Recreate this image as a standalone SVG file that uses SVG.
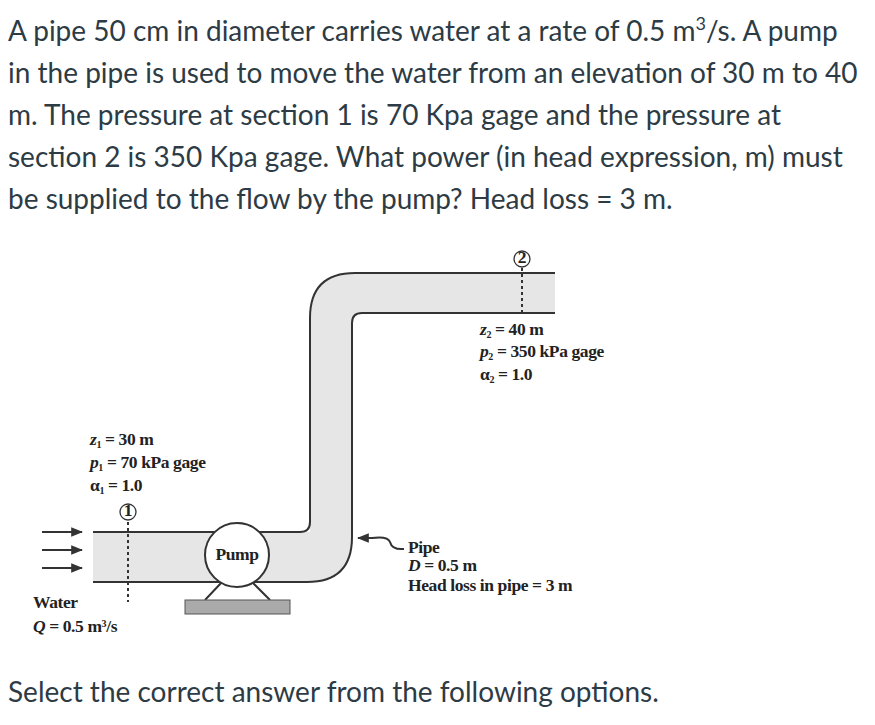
<svg xmlns="http://www.w3.org/2000/svg" width="875" height="725" viewBox="0 0 875 725">
<style>
.q{font-family:Lato,"Liberation Sans",sans-serif;font-size:28px;fill:#2d3b45}
.d{font-family:"Liberation Serif",serif;font-size:17.5px;font-weight:bold;fill:#222;letter-spacing:-0.4px}
.ln{stroke:#333;stroke-width:2;fill:none}
.ds{stroke:#333;stroke-width:2;stroke-dasharray:3,3}
</style>
<defs><marker id="ah" viewBox="0 0 10 10" refX="9" refY="5" markerWidth="6" markerHeight="6" orient="auto"><path d="M0,1L10,5L0,9z" fill="#333"/></marker></defs>
<rect width="875" height="725" fill="#fff"/>
<g id="question">
<text class="q" x="8" y="41">A pipe 50 cm in diameter carries water at a rate of 0.5 m<tspan dy="-11" font-size="18">3</tspan><tspan dy="11">/s. A pump</tspan></text>
<text class="q" x="8" y="83">in the pipe is used to move the water from an elevation of 30 m to 40</text>
<text class="q" x="8" y="125">m. The pressure at section 1 is 70 Kpa gage and the pressure at</text>
<text class="q" x="8" y="167">section 2 is 350 Kpa gage. What power (in head expression, m) must</text>
<text class="q" x="8" y="209">be supplied to the flow by the pump? Head loss = 3 m.</text>
<text class="q" x="8" y="702">Select the correct answer from the following options.</text>
</g>
<g id="pipe">
<path d="M93,532 H310 V318 Q310,273 355,273 H555 V313 H362 Q352,313 352,323 V537 Q352,582 307,582 H93 Z" fill="#e6e6e6"/>
<path class="ln" d="M93,532 H300 Q310,532 310,522 V318 Q310,273 355,273 H555"/>
<path class="ln" d="M555,313 H362 Q352,313 352,323 V537 Q352,582 307,582 H93"/>
</g>
<g id="pump">
<path class="ln" d="M222,582 L205,600 M252,582 L270,600"/>
<rect x="185" y="600" width="105" height="14" fill="#aaa" stroke="#555"/>
<circle cx="237" cy="555" r="32" fill="#fff" stroke="#333" stroke-width="2"/>
<text class="d" x="237" y="560" text-anchor="middle">Pump</text>
</g>
<g id="section1">
<line class="ds" x1="128" y1="522" x2="128" y2="602"/>
<circle cx="128" cy="512" r="8" fill="#fff" stroke="#333" stroke-width="1.3"/>
<text class="d" x="128" y="516" font-size="11" text-anchor="middle">1</text>
<text class="d" x="90" y="445"><tspan font-style="italic">z</tspan><tspan font-size="10" dy="3">1</tspan><tspan dy="-3"> = 30 m</tspan></text>
<text class="d" x="90" y="468"><tspan font-style="italic">p</tspan><tspan font-size="10" dy="3">1</tspan><tspan dy="-3"> = 70 kPa gage</tspan></text>
<text class="d" x="90" y="491">α<tspan font-size="10" dy="3">1</tspan><tspan dy="-3"> = 1.0</tspan></text>
</g>
<g id="section2">
<line class="ds" x1="522" y1="268" x2="522" y2="313"/>
<circle cx="522" cy="259" r="8" fill="#fff" stroke="#333" stroke-width="1.3"/>
<text class="d" x="522" y="263" font-size="11" text-anchor="middle">2</text>
<text class="d" x="480" y="335"><tspan font-style="italic">z</tspan><tspan font-size="10" dy="3">2</tspan><tspan dy="-3"> = 40 m</tspan></text>
<text class="d" x="480" y="357"><tspan font-style="italic">p</tspan><tspan font-size="10" dy="3">2</tspan><tspan dy="-3"> = 350 kPa gage</tspan></text>
<text class="d" x="480" y="380">α<tspan font-size="10" dy="3">2</tspan><tspan dy="-3"> = 1.0</tspan></text>
</g>
<g id="water">
<text class="d" x="33" y="608">Water</text>
<text class="d" x="33" y="632"><tspan font-style="italic">Q</tspan> = 0.5 m<tspan font-size="10" dy="-5">3</tspan><tspan dy="5">/s</tspan></text>
</g>
<g id="pipelabel">
<text class="d" x="408" y="553">Pipe</text>
<text class="d" x="408" y="571"><tspan font-style="italic">D</tspan> = 0.5 m</text>
<text class="d" x="408" y="591">Head loss in pipe = 3 m</text>
</g>
<g id="connectors">
<line class="ln" x1="42" y1="532" x2="82" y2="532" stroke-width="1.5" marker-end="url(#ah)"/>
<line class="ln" x1="42" y1="550" x2="82" y2="550" stroke-width="1.5" marker-end="url(#ah)"/>
<line class="ln" x1="42" y1="568" x2="82" y2="568" stroke-width="1.5" marker-end="url(#ah)"/>
<path class="ln" stroke-width="1.3" d="M404,549 Q392,550 390,542 Q388,536 372,538 L358,538" marker-end="url(#ah)"/>
</g>
</svg>
